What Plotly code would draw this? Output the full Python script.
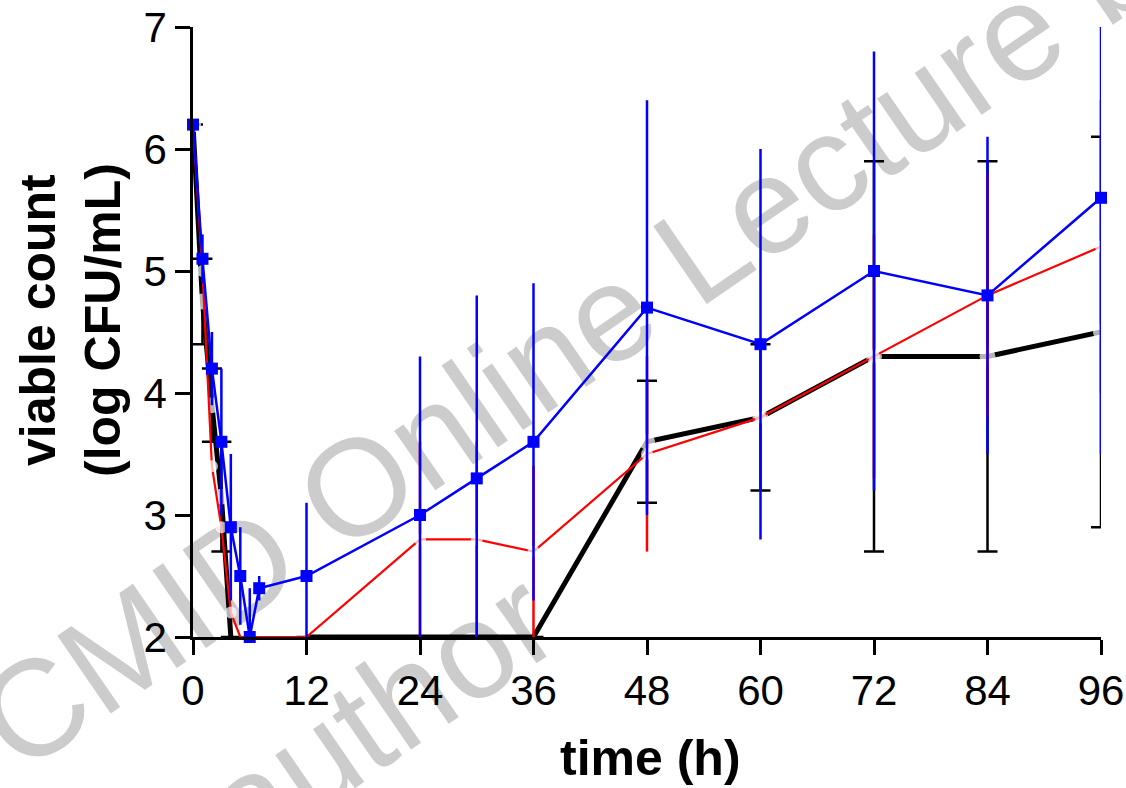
import plotly.graph_objects as go

# ---- data ----
time_h = [0, 1, 2, 3, 4, 5, 6, 7, 12, 24, 30, 36, 48, 60, 72, 84, 96]

black_vals = [6.2, 4.75, 3.9, 3.15, 2.0, None, None, None, 2.0, 2.0, 2.0, 2.0, 3.6, 3.8, 4.3, 4.3, 4.5]
black_err = [None, 0.35, 0.3, 0.45, None, None, None, None, None, None, None, None, 0.5, 0.6, 1.6, 1.6, 1.6]

red_vals = [6.2, 5.0, 3.4, 2.9, 2.2, 2.0, 2.0, 2.0, 2.0, 2.8, 2.8, 2.7, 3.5, 3.8, 4.3, 4.8, 5.2]
red_err = [None, None, None, None, None, None, None, None, None, 0.8, 0.8, 0.7, 0.8, 0.6, 1.0, 1.0, 1.2]

blue_vals = [6.2, 5.1, 4.2, 3.6, 2.9, 2.5, 2.0, 2.4, 2.5, 3.0, 3.3, 3.6, 4.7, 4.4, 5.0, 4.8, 5.6]
blue_err = [None, 0.2, 0.3, 0.6, 0.6, 0.4, 0.4, 0.1, 0.6, 1.3, 1.5, 1.3, 1.7, 1.6, 1.8, 1.3, 2.1]

x_ticks = [0, 12, 24, 36, 48, 60, 72, 84, 96]
y_ticks = [2, 3, 4, 5, 6, 7]

x_title = "time (h)"
y_title = "viable count<br>(log CFU/mL)"
watermark_1 = "CMID Online Lecture by"
watermark_2 = "author"

# ---- layout geometry (pixels) ----
W, H = 1126, 788
L, R, T, B = 193, 25, 27, 151
PW, PH = W - L - R, H - T - B


def px(xp):
    return (xp - L) / PW


def py(yp):
    return (H - B - yp) / PH


def gap_sizes(vals, size):
    # hide the white "gap" markers where the value sits on the detection limit
    return [0 if (v is None or v <= 2.0) else size for v in vals]


FONT = "Liberation Sans, Arial, sans-serif"

fig = go.Figure()

fig.add_trace(go.Scatter(
    x=time_h, y=black_vals, mode="lines+markers",
    line=dict(color="black", width=5),
    marker=dict(color="white", size=gap_sizes(black_vals, 16), symbol="circle", line=dict(width=0)),
    error_y=dict(type="data", array=black_err, visible=True, color="black", thickness=2.5, width=10),
    connectgaps=False, cliponaxis=False, showlegend=False,
))

fig.add_trace(go.Scatter(
    x=time_h, y=red_vals, mode="lines+markers",
    line=dict(color="#ff0000", width=2.2),
    marker=dict(color="white", size=gap_sizes(red_vals, 12), symbol="circle", line=dict(width=0)),
    error_y=dict(type="data", array=red_err, visible=True, color="#ff0000", thickness=2.5, width=0),
    cliponaxis=False, showlegend=False,
))

fig.add_trace(go.Scatter(
    x=time_h, y=blue_vals, mode="lines+markers",
    line=dict(color="#0000ff", width=2.5),
    marker=dict(color="#0000ff", size=12, symbol="square", line=dict(width=0)),
    error_y=dict(type="data", array=blue_err, visible=True, color="#0000ff", thickness=2.5, width=0),
    cliponaxis=False, showlegend=False,
))

# watermark, drawn below the data
for text, cx, cy in [(watermark_1, 588, 312), (watermark_2, 372, 703)]:
    fig.add_shape(
        type="rect", xref="paper", yref="paper",
        x0=px(cx) - 0.005, x1=px(cx) + 0.005, y0=py(cy) - 0.005, y1=py(cy) + 0.005,
        line=dict(width=0), fillcolor="rgba(0,0,0,0)", layer="below",
        label=dict(text=text, textangle=-34.5, textposition="middle center",
                   font=dict(size=137, color="#cccccc", family=FONT)),
    )

fig.add_annotation(
    text=y_title, xref="paper", yref="paper", x=px(70), y=py(320),
    xanchor="center", yanchor="middle", textangle=-90, showarrow=False,
    font=dict(size=50, color="black", family=FONT, weight="bold"),
)
fig.add_annotation(
    text=x_title, xref="paper", yref="paper", x=px(650), y=py(758),
    xanchor="center", yanchor="middle", showarrow=False,
    font=dict(size=50, color="black", family=FONT, weight="bold"),
)

fig.update_layout(
    width=W, height=H,
    margin=dict(l=L, r=R, t=T, b=B, pad=0, autoexpand=False),
    paper_bgcolor="white", plot_bgcolor="rgba(0,0,0,0)",
    font=dict(family=FONT, color="black"),
    xaxis=dict(
        range=[0, 96], tickmode="array", tickvals=x_ticks, ticktext=[str(v) for v in x_ticks],
        showline=True, linecolor="black", linewidth=2.5, mirror=False, automargin=False,
        ticks="outside", ticklen=15, tickwidth=2.5, tickcolor="black",
        showgrid=False, zeroline=False, tickfont=dict(size=42, family=FONT),
    ),
    yaxis=dict(
        range=[2, 7], tickmode="array", tickvals=y_ticks, ticktext=[str(v) for v in y_ticks],
        showline=True, linecolor="black", linewidth=2.5, mirror=False, automargin=False,
        ticks="outside", ticklen=15, tickwidth=2.5, tickcolor="black",
        showgrid=False, zeroline=False, tickfont=dict(size=42, family=FONT),
    ),
)

fig.write_html("out.html")
